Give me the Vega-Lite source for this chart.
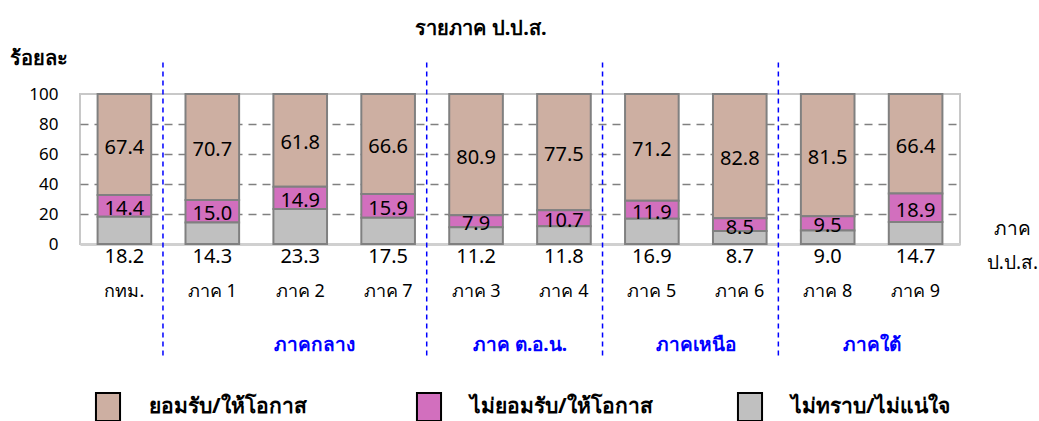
{
  "$schema": "https://vega.github.io/schema/vega-lite/v6.json",
  "width": 880,
  "height": 150,
  "autosize": "none",
  "padding": {"left": 80, "top": 94, "right": 79, "bottom": 177},
  "background": "white",
  "config": {
    "view": {"stroke": "#c8c8c8", "strokeWidth": 2},
    "font": "Tahoma, Noto Sans, sans-serif",
    "axisY": {"tickCount": 10}
  },
  "title": {
    "text": "รายภาค ป.ป.ส.",
    "fontSize": 20,
    "fontWeight": "bold",
    "anchor": "middle",
    "dx": -39,
    "offset": -11,
    "baseline": "bottom",
    "color": "black"
  },
  "datasets": {
    "main": [
      {"cat": "กทม.", "group": "ยอมรับ/ให้โอกาส", "ord": 3, "value": 67.4},
      {"cat": "กทม.", "group": "ไม่ยอมรับ/ให้โอกาส", "ord": 2, "value": 14.4},
      {"cat": "กทม.", "group": "ไม่ทราบ/ไม่แน่ใจ", "ord": 1, "value": 18.2},
      {"cat": "ภาค 1", "group": "ยอมรับ/ให้โอกาส", "ord": 3, "value": 70.7},
      {"cat": "ภาค 1", "group": "ไม่ยอมรับ/ให้โอกาส", "ord": 2, "value": 15.0},
      {"cat": "ภาค 1", "group": "ไม่ทราบ/ไม่แน่ใจ", "ord": 1, "value": 14.3},
      {"cat": "ภาค 2", "group": "ยอมรับ/ให้โอกาส", "ord": 3, "value": 61.8},
      {"cat": "ภาค 2", "group": "ไม่ยอมรับ/ให้โอกาส", "ord": 2, "value": 14.9},
      {"cat": "ภาค 2", "group": "ไม่ทราบ/ไม่แน่ใจ", "ord": 1, "value": 23.3},
      {"cat": "ภาค 7", "group": "ยอมรับ/ให้โอกาส", "ord": 3, "value": 66.6},
      {"cat": "ภาค 7", "group": "ไม่ยอมรับ/ให้โอกาส", "ord": 2, "value": 15.9},
      {"cat": "ภาค 7", "group": "ไม่ทราบ/ไม่แน่ใจ", "ord": 1, "value": 17.5},
      {"cat": "ภาค 3", "group": "ยอมรับ/ให้โอกาส", "ord": 3, "value": 80.9},
      {"cat": "ภาค 3", "group": "ไม่ยอมรับ/ให้โอกาส", "ord": 2, "value": 7.9},
      {"cat": "ภาค 3", "group": "ไม่ทราบ/ไม่แน่ใจ", "ord": 1, "value": 11.2},
      {"cat": "ภาค 4", "group": "ยอมรับ/ให้โอกาส", "ord": 3, "value": 77.5},
      {"cat": "ภาค 4", "group": "ไม่ยอมรับ/ให้โอกาส", "ord": 2, "value": 10.7},
      {"cat": "ภาค 4", "group": "ไม่ทราบ/ไม่แน่ใจ", "ord": 1, "value": 11.8},
      {"cat": "ภาค 5", "group": "ยอมรับ/ให้โอกาส", "ord": 3, "value": 71.2},
      {"cat": "ภาค 5", "group": "ไม่ยอมรับ/ให้โอกาส", "ord": 2, "value": 11.9},
      {"cat": "ภาค 5", "group": "ไม่ทราบ/ไม่แน่ใจ", "ord": 1, "value": 16.9},
      {"cat": "ภาค 6", "group": "ยอมรับ/ให้โอกาส", "ord": 3, "value": 82.8},
      {"cat": "ภาค 6", "group": "ไม่ยอมรับ/ให้โอกาส", "ord": 2, "value": 8.5},
      {"cat": "ภาค 6", "group": "ไม่ทราบ/ไม่แน่ใจ", "ord": 1, "value": 8.7},
      {"cat": "ภาค 8", "group": "ยอมรับ/ให้โอกาส", "ord": 3, "value": 81.5},
      {"cat": "ภาค 8", "group": "ไม่ยอมรับ/ให้โอกาส", "ord": 2, "value": 9.5},
      {"cat": "ภาค 8", "group": "ไม่ทราบ/ไม่แน่ใจ", "ord": 1, "value": 9.0},
      {"cat": "ภาค 9", "group": "ยอมรับ/ให้โอกาส", "ord": 3, "value": 66.4},
      {"cat": "ภาค 9", "group": "ไม่ยอมรับ/ให้โอกาส", "ord": 2, "value": 18.9},
      {"cat": "ภาค 9", "group": "ไม่ทราบ/ไม่แน่ใจ", "ord": 1, "value": 14.7}
    ]
  },
  "layer": [
    {
      "data": {"name": "main"},
      "mark": {"type": "bar", "stroke": "#808080", "strokeWidth": 2},
      "encoding": {
        "x": {
          "field": "cat", "type": "nominal", "sort": null,
          "scale": {"paddingInner": 0.39, "paddingOuter": 0.2},
          "axis": {
            "labelAngle": 0, "labelFontSize": 18, "labelColor": "black", "labelPadding": 38,
            "ticks": false, "domainColor": "#d0d0d0", "domainWidth": 3,
            "title": ["ภาค", "ป.ป.ส."], "titleX": 932, "titleY": -25, "titleBaseline": "top",
            "titleAlign": "center", "titleFontSize": 19, "titleFontWeight": "normal",
            "titleLineHeight": 34, "titleColor": "black"
          }
        },
        "y": {
          "field": "value", "type": "quantitative", "stack": "zero",
          "scale": {"domain": [0, 100], "nice": false},
          "axis": {
            "values": [0, 20, 40, 60, 80, 100], "tickCount": 10, "labelFontSize": 17, "labelColor": "black",
            "labelPadding": 22, "labelOverlap": false, "labelBound": false, "labelFlush": false,
            "ticks": false, "domain": false,
            "grid": true, "gridDash": [8, 6], "gridWidth": 1.5,
            "gridColor": {"condition": {"test": "datum.value === 0 || datum.value === 100", "value": "transparent"}, "value": "#808080"},
            "title": "ร้อยละ", "titleAngle": 0, "titleX": -42, "titleY": -36,
            "titleAlign": "center", "titleBaseline": "middle", "titleFontSize": 20,
            "titleFontWeight": "bold", "titleColor": "black"
          }
        },
        "color": {
          "field": "group", "type": "nominal",
          "scale": {
            "domain": ["ยอมรับ/ให้โอกาส", "ไม่ยอมรับ/ให้โอกาส", "ไม่ทราบ/ไม่แน่ใจ"],
            "range": ["#cdafa2", "#d26fbe", "#c0c0c0"]
          },
          "legend": {
            "orient": "none", "legendX": 13, "legendY": 298, "direction": "horizontal",
            "columns": 3, "gridAlign": "all", "columnPadding": 80, "padding": 0,
            "title": null, "symbolType": "M-0.86,-1H0.86V1H-0.86Z", "symbolSize": 784,
            "symbolStrokeColor": "black", "symbolStrokeWidth": 2, "symbolOpacity": 1,
            "labelFontSize": 21, "labelFontWeight": "bold", "labelColor": "black",
            "labelOffset": 26, "labelLimit": 400,
            "encode": {
              "symbols": {
                "update": {
                  "fill": {"signal": "datum.value === 'ไม่ทราบ/ไม่แน่ใจ' ? '#a6a6a6' : scale('color', datum.value)"},
                  "stroke": {"value": "black"}
                }
              }
            }
          }
        },
        "order": {"field": "ord", "type": "quantitative"}
      }
    },
    {
      "data": {"name": "main"},
      "mark": {"type": "text", "fontSize": 20, "color": "black", "baseline": "middle", "dy": 3},
      "encoding": {
        "x": {"field": "cat", "type": "nominal", "sort": null},
        "y": {"field": "value", "type": "quantitative", "stack": "zero", "bandPosition": 0.5},
        "detail": {"field": "group", "type": "nominal"},
        "order": {"field": "ord", "type": "quantitative"},
        "text": {"field": "value", "type": "quantitative", "format": ".1f"},
        "opacity": {"condition": {"test": "datum.group === 'ไม่ทราบ/ไม่แน่ใจ'", "value": 0}, "value": 1}
      }
    },
    {
      "data": {"name": "main"},
      "transform": [{"filter": "datum.group === 'ไม่ทราบ/ไม่แน่ใจ'"}],
      "mark": {"type": "text", "fontSize": 20, "color": "black", "baseline": "middle", "dy": 13},
      "encoding": {
        "x": {"field": "cat", "type": "nominal", "sort": null},
        "y": {"datum": 0},
        "text": {"field": "value", "type": "quantitative", "format": ".1f"}
      }
    },
    {
      "data": {"values": [{"region": "ภาคกลาง", "cat": "ภาค 2"}]},
      "mark": {"type": "text", "fontSize": 19, "fontWeight": "bold", "color": "#0000ff", "baseline": "middle", "dx": 14},
      "encoding": {
        "x": {"field": "cat", "type": "nominal", "sort": null},
        "y": {"datum": -67},
        "text": {"field": "region"}
      }
    },
    {
      "data": {"values": [
        {"region": "ภาค ต.อ.น.", "cat": "ภาค 3"},
        {"region": "ภาคเหนือ", "cat": "ภาค 5"},
        {"region": "ภาคใต้", "cat": "ภาค 8"}
      ]},
      "mark": {"type": "text", "fontSize": 19, "fontWeight": "bold", "color": "#0000ff", "baseline": "middle", "dx": 44},
      "encoding": {
        "x": {"field": "cat", "type": "nominal", "sort": null},
        "y": {"datum": -67},
        "text": {"field": "region"}
      }
    },
    {
      "data": {"values": [{"cat": "ภาค 1"}, {"cat": "ภาค 3"}, {"cat": "ภาค 5"}, {"cat": "ภาค 8"}]},
      "mark": {"type": "rule", "color": "#0000ff", "strokeWidth": 1.5, "strokeDash": [5, 4]},
      "encoding": {
        "x": {"field": "cat", "type": "nominal", "sort": null, "bandPosition": -0.42},
        "y": {"datum": 121},
        "y2": {"datum": -76}
      }
    }
  ]
}
